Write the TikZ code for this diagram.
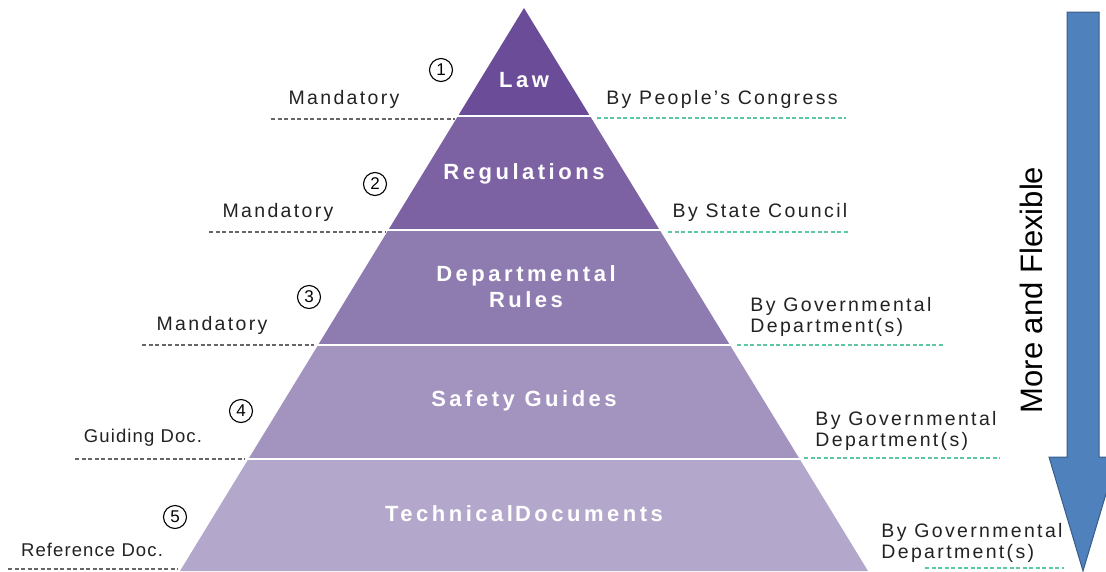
\documentclass[tikz,border=0pt]{standalone}
\usepackage{fontspec}
\setmainfont{Liberation Sans}
\definecolor{lay1}{HTML}{6A4C99}
\definecolor{lay2}{HTML}{7D62A3}
\definecolor{lay3}{HTML}{8E7BB0}
\definecolor{lay4}{HTML}{A293BF}
\definecolor{lay5}{HTML}{B3A8CB}
\definecolor{arrowblue}{HTML}{4F81BD}
\definecolor{arrowedge}{HTML}{385D8A}
\definecolor{teal}{HTML}{5CC7A4}
\definecolor{txt}{HTML}{222222}
\tikzset{
  layertext/.style={text=white, font=\fontsize{22}{24}\selectfont\bfseries\addfontfeature{LetterSpace=16}, align=center},
  sidetext/.style={text=txt, font=\fontsize{19.5}{21}\selectfont\addfontfeature{LetterSpace=12}, align=left},
  narrowtext/.style={text=txt, font=\fontsize{18.5}{21}\selectfont\addfontfeature{LetterSpace=6}, align=left},
  numtext/.style={circle, draw=black, line width=1.1pt, minimum size=23pt, inner sep=0pt, text=black, font=\fontsize{17}{17}\selectfont},
  leftdash/.style={draw=gray!80!black, line width=1.3pt, dash pattern=on 4pt off 2.5pt},
  rightdash/.style={draw=teal, line width=1.3pt, dash pattern=on 4pt off 2.5pt},
  sep/.style={draw=white, line width=2.5pt}
}
\begin{document}
\begin{tikzpicture}[x=1pt,y=-1pt]
\useasboundingbox (0,0) rectangle (1106,571);
\clip (0,0) rectangle (1106,571);
% pyramid layers
\fill[lay1] (524,8) -- (590.0,116) -- (458.0,116) -- cycle;
\fill[lay2] (458.0,116) -- (590.0,116) -- (659.7,230) -- (388.3,230) -- cycle;
\fill[lay3] (388.3,230) -- (659.7,230) -- (729.9,345) -- (318.1,345) -- cycle;
\fill[lay4] (318.1,345) -- (729.9,345) -- (799.6,459) -- (248.4,459) -- cycle;
\fill[lay5] (248.4,459) -- (799.6,459) -- (868,571) -- (180,571) -- cycle;
% separators
\draw[sep] (456.5,116) -- (591.5,116);
\draw[sep] (386.8,230) -- (661.2,230);
\draw[sep] (316.6,345) -- (731.4,345);
\draw[sep] (246.9,459) -- (801.1,459);
% dashed guide lines
\coordinate (l1a) at (271,119); \coordinate (l1b) at (455,119);
\coordinate (l2a) at (209,232); \coordinate (l2b) at (385,232);
\coordinate (l3a) at (142,345); \coordinate (l3b) at (314,345);
\coordinate (l4a) at (75,459);  \coordinate (l4b) at (245,459);
\coordinate (l5a) at (8,569);   \coordinate (l5b) at (178,569);
\coordinate (r1a) at (597,118); \coordinate (r1b) at (846,118);
\coordinate (r2a) at (668,232); \coordinate (r2b) at (848,232);
\coordinate (r3a) at (737,345); \coordinate (r3b) at (943,345);
\coordinate (r4a) at (804,458); \coordinate (r4b) at (1000,458);
\coordinate (r5a) at (925,568); \coordinate (r5b) at (1064,568);
\draw[leftdash] (l1a) -- (l1b);
\draw[leftdash] (l2a) -- (l2b);
\draw[leftdash] (l3a) -- (l3b);
\draw[leftdash] (l4a) -- (l4b);
\draw[leftdash] (l5a) -- (l5b);
\draw[rightdash] (r1a) -- (r1b);
\draw[rightdash] (r2a) -- (r2b);
\draw[rightdash] (r3a) -- (r3b);
\draw[rightdash] (r4a) -- (r4b);
\draw[rightdash] (r5a) -- (r5b);
% layer labels
\node[layertext] (law) at (524,80) {Law};
\node[layertext] (reg) at (524,174) {Regulations};
\node[layertext] (dep) at (526,287) {Departmental\\[2pt]Rules};
\node[layertext] (saf) at (524,401) {Safety Guides};
\node[layertext] (tec) at (524,514) {Technical\hspace{2pt}Documents};
% circled numbers
\node[numtext] (n1) at (441,70) {1};
\node[numtext] (n2) at (375,184) {2};
\node[numtext] (n3) at (309,297) {3};
\node[numtext] (n4) at (241,411) {4};
\node[numtext] (n5) at (175,517) {5};
% left labels
\node[sidetext] (m1) at (344,99) {Mandatory};
\node[sidetext] (m2) at (278,212) {Mandatory};
\node[sidetext] (m3) at (212,325) {Mandatory};
\node[narrowtext] (g4) at (143,438) {Guiding Doc.};
\node[narrowtext] (r5) at (92,550) {Reference Doc.};
% right labels
\node[sidetext] (b1) at (722,99) {By People's Congress};
\node[sidetext] (b2) at (760,212) {By State Council};
\node[sidetext] (b3) at (841,317) {By Governmental\\Department(s)};
\node[sidetext] (b4) at (906,431) {By Governmental\\Department(s)};
\node[sidetext] (b5) at (972,543) {By Governmental\\Department(s)};
% big arrow
\draw[fill=arrowblue, draw=arrowedge, line width=1pt]
  (1067,12) -- (1099,12) -- (1099,457) -- (1117,457) -- (1083,571) -- (1049,457) -- (1067,457) -- cycle;
\node[rotate=90, text=black, font=\fontsize{31}{33}\selectfont] (flex) at (1031,290) {More and Flexible};
\end{tikzpicture}
\end{document}
